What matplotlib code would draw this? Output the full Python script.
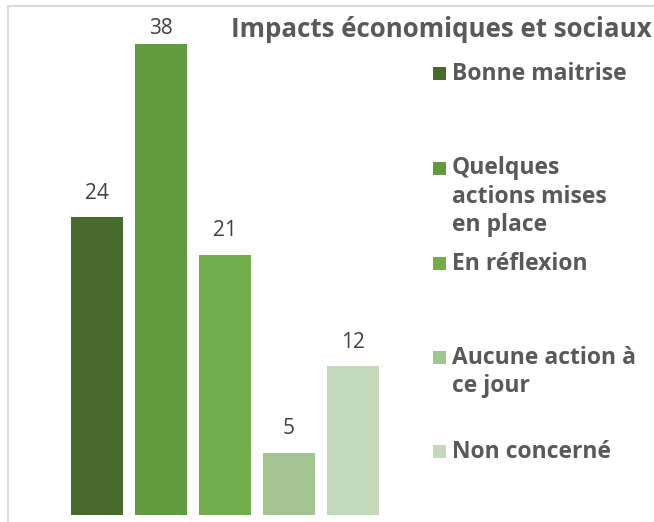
import matplotlib.pyplot as plt
from matplotlib import patches
from matplotlib.lines import Line2D

# data
categories = ["Bonne maitrise", "Quelques actions mises en place", "En réflexion",
              "Aucune action à ce jour", "Non concerné"]
legend_labels = ["Bonne maitrise", "Quelques\nactions mises\nen place", "En réflexion",
                 "Aucune action à\nce jour", "Non concerné"]
values = [24, 38, 21, 5, 12]
colors = ["#476B2C", "#629A3F", "#72AD4B", "#A3C591", "#C4D8BC"]
title = "Impacts économiques et sociaux"

W, H = 654, 522
fig = plt.figure(figsize=(W / 100, H / 100), dpi=100)

# axes placed so bars land where they are in the reference
ax = fig.add_axes([65 / W, 7 / H, 320 / W, 496 / H])
x = range(len(values))
bars = ax.bar(x, values, width=0.81, color=colors)
ax.set_xlim(-0.5, 4.5)
ax.set_ylim(0, 40)
ax.axis("off")

# value labels, kept inside the chart area like Excel does
for rect, v in zip(bars, values):
    px, py = ax.transData.transform((rect.get_x() + rect.get_width() / 2, v))
    ly = min(py + 24, H - 28)
    fig.text(px / W, ly / H, str(v), ha="center", va="center", fontsize=15,
             family="Open Sans", color="#404040")

# title
fig.text(231 / W, 1 - 37 / H, title, ha="left", va="baseline", fontsize=18.6,
         family="Open Sans", weight="bold", color="#595959")

# manual legend
legend_y = [73, 168, 263, 357, 451]
for lab, col, y in zip(legend_labels, colors, legend_y):
    fig.patches.append(patches.Rectangle((433 / W, 1 - (y + 6.5) / H), 13 / W, 13 / H,
                                         transform=fig.transFigure, facecolor=col,
                                         edgecolor="none"))
    fig.text(452 / W, 1 - (y - 11.5) / H, lab, ha="left", va="top", fontsize=16.5,
             family="Open Sans", weight="bold", color="#595959", linespacing=1.24)

# chart border (left and top visible)
fig.add_artist(Line2D([8 / W, 8 / W], [0, 1 - 6 / H], transform=fig.transFigure,
                      color="#D9D9D9", linewidth=1.5))
fig.add_artist(Line2D([8 / W, 1], [1 - 6 / H, 1 - 6 / H], transform=fig.transFigure,
                      color="#D9D9D9", linewidth=1.5))

fig.savefig("out.png", dpi=100)
